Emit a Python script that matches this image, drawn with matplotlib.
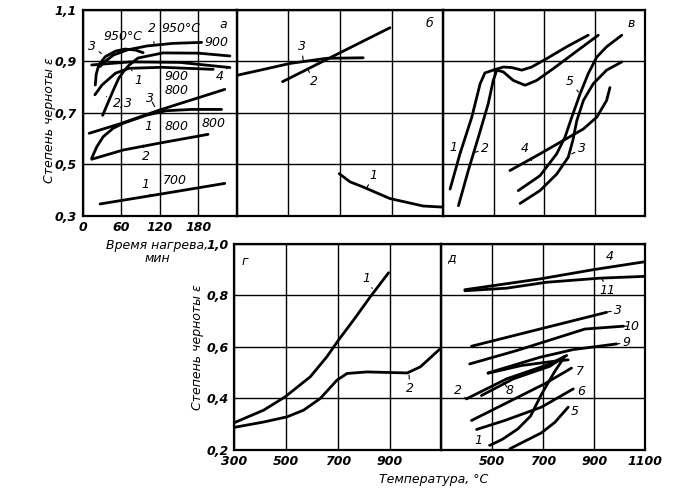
import matplotlib.pyplot as plt

# ---- panel a: emissivity vs heating time (min) ----
a1_700_t = [27, 120, 221]
a1_700_e = [0.345, 0.383, 0.425]
a2_800_t = [14, 63, 120, 195]
a2_800_e = [0.519, 0.555, 0.582, 0.616]
a1_800_t = [14, 22, 32, 47, 63, 100, 130, 170, 216]
a1_800_e = [0.523, 0.568, 0.607, 0.639, 0.659, 0.691, 0.708, 0.713, 0.713]
a3_800_t = [10, 58, 120, 221]
a3_800_e = [0.62, 0.657, 0.711, 0.791]
a23_900_t = [31, 40, 48, 56, 64, 72, 86, 125, 180, 229]
a23_900_e = [0.69, 0.743, 0.79, 0.834, 0.862, 0.885, 0.913, 0.933, 0.932, 0.921]
a1_900_t = [19, 30, 51, 72, 123, 203]
a1_900_e = [0.77, 0.808, 0.854, 0.873, 0.877, 0.869]
a4_t = [14, 74, 151, 229]
a4_e = [0.886, 0.898, 0.896, 0.876]
a2_950_t = [27, 35, 48, 70, 100, 140, 185]
a2_950_e = [0.88, 0.90, 0.925, 0.945, 0.96, 0.97, 0.974]
a3_950_t = [19.6, 21, 25, 35, 51, 66, 82, 94]
a3_950_e = [0.808, 0.85, 0.886, 0.918, 0.94, 0.948, 0.944, 0.934]

# ---- panel b ----
b1_x = [697, 739, 790, 894, 1023, 1095]
b1_e = [0.463, 0.431, 0.411, 0.366, 0.337, 0.333]
b2_x = [477, 685, 894]
b2_e = [0.821, 0.926, 1.031]
b3_x = [301, 400, 506, 648, 790]
b3_e = [0.846, 0.868, 0.892, 0.912, 0.914]

# ---- panel v ----
v1_x = [328, 367, 414, 447, 466, 499, 539, 572, 612, 651, 711, 790, 875]
v1_e = [0.403, 0.540, 0.683, 0.813, 0.855, 0.866, 0.878, 0.876, 0.866, 0.878, 0.911, 0.957, 1.002]
v2_x = [361, 400, 440, 479, 499, 513, 539, 578, 625, 671, 737, 816, 915]
v2_e = [0.338, 0.475, 0.605, 0.735, 0.826, 0.866, 0.859, 0.826, 0.807, 0.826, 0.872, 0.930, 1.002]
v3_x = [605, 684, 750, 796, 814, 830, 856, 895, 948, 1008]
v3_e = [0.347, 0.397, 0.461, 0.527, 0.592, 0.670, 0.748, 0.813, 0.866, 0.898]
v4_x = [565, 684, 776, 856, 909, 948, 961]
v4_e = [0.475, 0.540, 0.592, 0.637, 0.683, 0.748, 0.798]
v5_x = [598, 684, 750, 783, 810, 843, 875, 909, 948, 1008]
v5_e = [0.397, 0.455, 0.540, 0.605, 0.683, 0.774, 0.852, 0.917, 0.957, 1.002]

# ---- panel g ----
g1_x = [300, 414, 497, 594, 658, 703, 761, 826, 896]
g1_e = [0.304, 0.353, 0.405, 0.483, 0.561, 0.626, 0.704, 0.795, 0.888]
g2_x = [300, 414, 504, 568, 633, 697, 736, 813, 968, 1019, 1097]
g2_e = [0.286, 0.307, 0.327, 0.353, 0.399, 0.470, 0.496, 0.502, 0.498, 0.522, 0.594]

# ---- panel d ----
d_lines = {
    "1": ([490, 540, 600, 650, 693, 746, 785], [0.216, 0.24, 0.28, 0.33, 0.415, 0.505, 0.563]),
    "2": ([398, 556, 726, 792], [0.397, 0.475, 0.533, 0.566]),
    "3": ([418, 687, 949], [0.602, 0.669, 0.734]),
    "4": ([392, 687, 897, 1100], [0.822, 0.864, 0.900, 0.931]),
    "5": ([569, 693, 746, 798], [0.203, 0.265, 0.306, 0.365]),
    "6": ([438, 549, 693, 818], [0.278, 0.313, 0.365, 0.436]),
    "7": ([418, 549, 706, 811], [0.313, 0.378, 0.456, 0.517]),
    "8": ([457, 582, 726, 779], [0.41, 0.475, 0.524, 0.559]),
    "8b": ([483, 615, 746, 798], [0.497, 0.527, 0.544, 0.549]),
    "9": ([483, 687, 818, 988], [0.498, 0.559, 0.589, 0.611]),
    "10": ([411, 595, 864, 1015], [0.533, 0.585, 0.669, 0.680]),
    "11": ([392, 556, 713, 923, 1100], [0.818, 0.828, 0.851, 0.867, 0.874]),
}

top_yticks = [0.3, 0.5, 0.7, 0.9, 1.1]
top_ylabels = ["0,3", "0,5", "0,7", "0,9", "1,1"]
bot_yticks = [0.2, 0.4, 0.6, 0.8, 1.0]
bot_ylabels = ["0,2", "0,4", "0,6", "0,8", "1,0"]
temp_ticks = [300, 500, 700, 900, 1100]
time_ticks = [0, 60, 120, 180, 240]

LW = 2.0
FS = 9
font = dict(fontsize=FS, fontstyle="italic")
tfont = dict(fontsize=FS, fontstyle="italic", fontweight="bold")

fig = plt.figure(figsize=(6.74, 4.95), dpi=100)


def frame(ax, xlim, xt, ylim, yt):
    ax.set_xlim(*xlim)
    ax.set_ylim(*ylim)
    ax.set_xticks(xt)
    ax.set_yticks(yt)
    ax.grid(True, color="black", lw=1.0)
    ax.tick_params(length=0, pad=4)
    for s in ax.spines.values():
        s.set_linewidth(1.6)
    ax.set_xticklabels([])
    ax.set_yticklabels([])


def lab(ax, text, xy, xytext):
    if xy is None:
        ax.text(*xytext, text, ha="center", va="center", **font)
    else:
        ax.annotate(text, xy=xy, xytext=xytext, ha="center", va="center",
                    arrowprops=dict(arrowstyle="-", lw=0.8, shrinkA=3, shrinkB=0), **font)


L = 82.7 / 674
axA = fig.add_axes([L, 0.5646, 0.2289, 0.4152])
axB = fig.add_axes([0.3516, 0.5646, 0.3057, 0.4152])
axV = fig.add_axes([0.6573, 0.5646, 0.2997, 0.4152])
axG = fig.add_axes([0.3472, 0.0919, 0.3078, 0.4152])
axD = fig.add_axes([0.6550, 0.0919, 0.3020, 0.4152])

frame(axA, (0, 240), time_ticks, (0.3, 1.1), top_yticks)
frame(axB, (300, 1100), temp_ticks, (0.3, 1.1), top_yticks)
frame(axV, (300, 1100), temp_ticks, (0.3, 1.1), top_yticks)
frame(axG, (300, 1100), temp_ticks, (0.2, 1.0), bot_yticks)
frame(axD, (300, 1100), temp_ticks, (0.2, 1.0), bot_yticks)

axA.set_yticklabels(top_ylabels, **tfont)
axA.set_xticklabels(["0", "60", "120", "180", ""], **tfont)
axG.set_yticklabels(bot_ylabels, **tfont)
axG.set_xticklabels(["300", "500", "700", "900", ""], **tfont)
axD.set_xticklabels(["", "500", "700", "900", "1100"], **tfont)

# panel a curves
for t, e in [(a1_700_t, a1_700_e), (a2_800_t, a2_800_e), (a1_800_t, a1_800_e),
             (a3_800_t, a3_800_e), (a23_900_t, a23_900_e), (a1_900_t, a1_900_e),
             (a4_t, a4_e), (a2_950_t, a2_950_e), (a3_950_t, a3_950_e)]:
    axA.plot(t, e, color="black", lw=LW, solid_capstyle="round")
lab(axA, "950°C", None, (63, 0.996))
lab(axA, "950°C", None, (153, 1.029))
lab(axA, "2", (111, 0.970), (107, 1.029))
lab(axA, "3", (29, 0.931), (15, 0.957))
lab(axA, "900", None, (208, 0.973))
lab(axA, "1", (76, 0.866), (86, 0.827))
lab(axA, "900", None, (146, 0.84))
lab(axA, "4", (226, 0.879), (213, 0.84))
lab(axA, "2,3", (37, 0.763), (63, 0.737))
lab(axA, "800", None, (146, 0.786))
lab(axA, "3", (112, 0.724), (105, 0.756))
lab(axA, "1", (94, 0.685), (102, 0.648))
lab(axA, "800", None, (146, 0.646))
lab(axA, "800", None, (203, 0.659))
lab(axA, "2", (94, 0.574), (99, 0.529))
lab(axA, "700", None, (143, 0.438))
lab(axA, "1", (105, 0.38), (97, 0.419))
lab(axA, "а", None, (218, 1.042))

# panel b
for x, e in [(b1_x, b1_e), (b2_x, b2_e), (b3_x, b3_e)]:
    axB.plot(x, e, color="black", lw=LW, solid_capstyle="round")
lab(axB, "3", (557, 0.905), (551, 0.957))
lab(axB, "2", (577, 0.866), (599, 0.821))
lab(axB, "1", (804, 0.407), (829, 0.456))
lab(axB, "б", None, (1049, 1.048))

# panel v
for x, e in [(v1_x, v1_e), (v2_x, v2_e), (v3_x, v3_e), (v4_x, v4_e), (v5_x, v5_e)]:
    axV.plot(x, e, color="black", lw=LW, solid_capstyle="round")
lab(axV, "1", (374, 0.546), (341, 0.566))
lab(axV, "2", (427, 0.546), (466, 0.559))
lab(axV, "5", (836, 0.781), (803, 0.820))
lab(axV, "4", (651, 0.514), (625, 0.559))
lab(axV, "3", (810, 0.540), (849, 0.559))
lab(axV, "в", None, (1047, 1.048))

# panel g
axG.plot(g1_x, g1_e, color="black", lw=LW, solid_capstyle="round")
axG.plot(g2_x, g2_e, color="black", lw=LW, solid_capstyle="round")
lab(axG, "1", (833, 0.827), (811, 0.866))
lab(axG, "2", (975, 0.49), (978, 0.438))
lab(axG, "г", None, (343, 0.931))

# panel d
for x, e in d_lines.values():
    axD.plot(x, e, color="black", lw=LW, solid_capstyle="round")
lab(axD, "4", (990, 0.912), (962, 0.952))
lab(axD, "11", (930, 0.866), (954, 0.818))
lab(axD, "3", (955, 0.736), (994, 0.741))
lab(axD, "10", (1015, 0.680), (1048, 0.680))
lab(axD, "9", (990, 0.611), (1028, 0.615))
lab(axD, "7", None, (844, 0.503))
lab(axD, "6", None, (851, 0.426))
lab(axD, "5", None, (825, 0.348))
lab(axD, "8", (545, 0.462), (566, 0.429))
lab(axD, "2", (398, 0.397), (365, 0.429))
lab(axD, "1", (490, 0.216), (444, 0.235))
lab(axD, "д", None, (339, 0.948))

# axis titles
fig.text(50 / 674, 1 - 120 / 495, "Степень черноты ε", rotation=90,
         ha="center", va="center", **font)
fig.text(197 / 674, 1 - 347 / 495, "Степень черноты ε", rotation=90,
         ha="center", va="center", **font)
fig.text(157 / 674, 1 - 252 / 495, "Время нагрева,\nмин", ha="center",
         va="center", linespacing=1.0, **font)
fig.text(434 / 674, 1 - 480 / 495, "Температура, °С", ha="center",
         va="center", **font)

plt.savefig("out.png", dpi=100)
